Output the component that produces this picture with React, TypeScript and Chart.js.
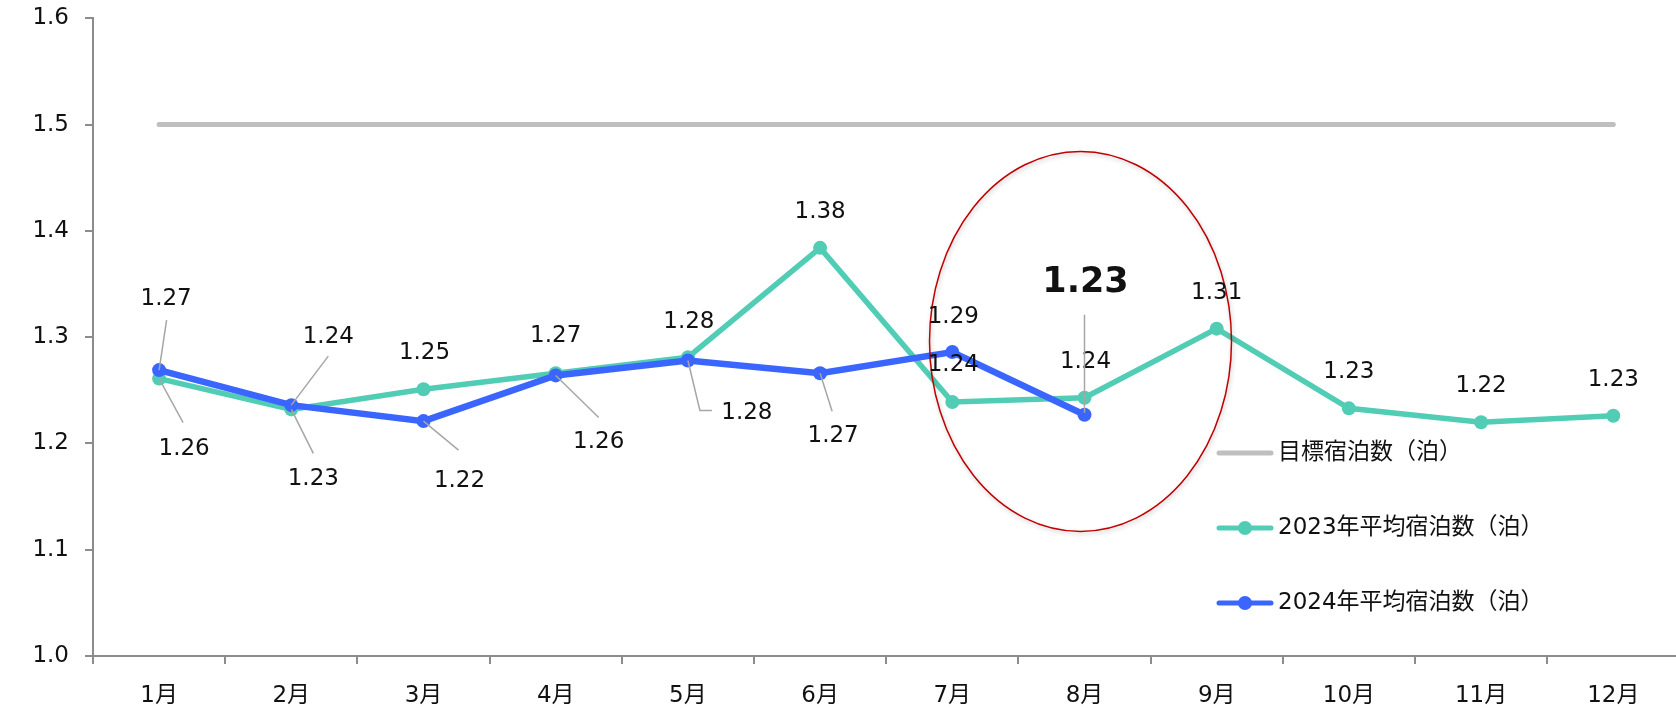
import React, { useEffect, useRef } from "react";
import { Chart, registerables } from "chart.js";

Chart.register(...registerables);

const months = ["1月", "2月", "3月", "4月", "5月", "6月", "7月", "8月", "9月", "10月", "11月", "12月"];
const targetNights = [1.5, 1.5, 1.5, 1.5, 1.5, 1.5, 1.5, 1.5, 1.5, 1.5, 1.5, 1.5];
const avg2023 = [1.261, 1.232, 1.251, 1.266, 1.281, 1.384, 1.239, 1.243, 1.308, 1.233, 1.22, 1.226];
const avg2024 = [1.269, 1.236, 1.221, 1.264, 1.278, 1.266, 1.286, 1.227, null, null, null, null];
const seriesNames = ["目標宿泊数（泊）", "2023年平均宿泊数（泊）", "2024年平均宿泊数（泊）"];
const yMin = 1.0;
const yMax = 1.6;
const yStep = 0.1;

const FONT = '"DejaVu Sans", "Noto Sans CJK JP", sans-serif';
const GRAY = "#bfbfbf";
const TEAL = "#52cdb5";
const BLUE = "#3a66ff";
const AXIS = "#8c8c8c";
const LEADER = "#a6a6a6";

type LabelPlace = { dx: number; dy: number; leader?: number[][]; bold?: boolean } | null;

// label placement (pixel offsets from point) for 2023 and 2024 series
const place2023: LabelPlace[] = [
  { dx: 25, dy: 70, leader: [[24, 44], [0, 0]] },
  { dx: 22, dy: 70, leader: [[22, 44], [0, 0]] },
  { dx: 1, dy: -36 },
  { dx: 0, dy: -37 },
  { dx: 1, dy: -35 },
  { dx: 0, dy: -36 },
  { dx: 1, dy: -37 },
  { dx: 1, dy: -36 },
  { dx: 0, dy: -36 },
  { dx: 0, dy: -36 },
  { dx: 0, dy: -36 },
  { dx: 0, dy: -36 },
];
const place2024: LabelPlace[] = [
  { dx: 7, dy: -71, leader: [[7.5, -50], [0, 0]] },
  { dx: 37, dy: -68, leader: [[37, -49], [0, 0]] },
  { dx: 36, dy: 60, leader: [[35, 29], [0, 0]] },
  { dx: 43, dy: 67, leader: [[43, 42], [0, 0]] },
  { dx: 59, dy: 52, leader: [[24, 50], [12, 50], [0, 0]] },
  { dx: 13, dy: 63, leader: [[12, 38], [0, 0]] },
  { dx: 1, dy: -35 },
  { dx: 1, dy: -132, bold: true, leader: [[0, -100], [0, -2]] },
  null,
  null,
  null,
  null,
];

const overlayPlugin = {
  id: "overlay",
  afterDatasetsDraw(chart: any) {
    const ctx = chart.ctx as CanvasRenderingContext2D;
    const xs = chart.scales.x;
    const ys = chart.scales.y;
    // highlight ellipse around August
    const cx = xs.getPixelForValue(7) - 4;
    const cy = ys.getPixelForValue(1.296);
    ctx.save();
    ctx.beginPath();
    ctx.ellipse(cx, cy, 151, 190, 0, 0, Math.PI * 2);
    ctx.shadowColor = "rgba(0,0,0,0.25)";
    ctx.shadowBlur = 4;
    ctx.shadowOffsetX = 1;
    ctx.shadowOffsetY = 2;
    ctx.strokeStyle = "#c00000";
    ctx.lineWidth = 1.5;
    ctx.stroke();
    ctx.restore();

    const draw = (dsIndex: number, places: LabelPlace[]) => {
      const meta = chart.getDatasetMeta(dsIndex);
      const data = chart.data.datasets[dsIndex].data as (number | null)[];
      meta.data.forEach((pt: any, i: number) => {
        const p = places[i];
        const v = data[i];
        if (!p || v === null || v === undefined) return;
        const x = pt.x;
        const y = pt.y;
        if (p.leader) {
          ctx.save();
          ctx.strokeStyle = LEADER;
          ctx.lineWidth = 1.5;
          ctx.beginPath();
          p.leader.forEach((q, k) => {
            if (k === 0) ctx.moveTo(x + q[0], y + q[1]);
            else ctx.lineTo(x + q[0], y + q[1]);
          });
          ctx.stroke();
          ctx.restore();
        }
        ctx.save();
        ctx.fillStyle = "#111";
        ctx.font = p.bold ? `bold 35px ${FONT}` : `23px ${FONT}`;
        ctx.textAlign = "center";
        ctx.textBaseline = "middle";
        ctx.fillText(v.toFixed(2), x + p.dx, y + p.dy);
        ctx.restore();
      });
    };
    draw(1, place2023);
    draw(2, place2024);
  },
  afterDraw(chart: any) {
    const ctx = chart.ctx as CanvasRenderingContext2D;
    const lx = 1217;
    const ly = 453;
    const gap = 75;
    chart.data.datasets.forEach((ds: any, i: number) => {
      const y = ly + i * gap;
      ctx.save();
      ctx.strokeStyle = ds.borderColor;
      ctx.lineWidth = 5;
      ctx.lineCap = "round";
      ctx.beginPath();
      ctx.moveTo(lx + 2, y);
      ctx.lineTo(lx + 54, y);
      ctx.stroke();
      if (ds.pointRadius > 0) {
        ctx.fillStyle = ds.borderColor;
        ctx.beginPath();
        ctx.arc(lx + 28, y, 7, 0, Math.PI * 2);
        ctx.fill();
      }
      ctx.fillStyle = "#111";
      ctx.font = `23px ${FONT}`;
      ctx.textAlign = "left";
      ctx.textBaseline = "middle";
      ctx.fillText(ds.label, lx + 61, y);
      ctx.restore();
    });
  },
};

export default function App() {
  const ref = useRef<HTMLCanvasElement | null>(null);
  useEffect(() => {
    if (!ref.current) return;
    const chart = new Chart(ref.current, {
      type: "line",
      data: {
        labels: months,
        datasets: [
          {
            label: seriesNames[0],
            data: targetNights,
            borderColor: GRAY,
            backgroundColor: GRAY,
            borderWidth: 5,
            borderCapStyle: "round",
            pointRadius: 0,
            order: 3,
          },
          {
            label: seriesNames[1],
            data: avg2023,
            borderColor: TEAL,
            backgroundColor: TEAL,
            borderWidth: 5.5,
            pointRadius: 7,
            pointBorderWidth: 0,
            order: 2,
          },
          {
            label: seriesNames[2],
            data: avg2024,
            borderColor: BLUE,
            backgroundColor: BLUE,
            borderWidth: 6.5,
            pointRadius: 7,
            pointBorderWidth: 0,
            order: 1,
          },
        ] as any,
      },
      options: {
        animation: false,
        responsive: true,
        maintainAspectRatio: false,
        layout: { padding: { top: 18.3, right: 10.6, left: 0, bottom: 0 } },
        plugins: { legend: { display: false }, tooltip: { enabled: false } },
        scales: {
          x: {
            offset: true,
            grid: {
              offset: true,
              drawOnChartArea: false,
              drawTicks: true,
              tickLength: 8,
              color: AXIS,
              lineWidth: 2,
            },
            border: { color: AXIS, width: 2 },
            ticks: { color: "#111", font: { family: FONT, size: 23 }, padding: 18, maxRotation: 0 },
            afterFit: (s: any) => {
              s.height = 52;
              s.paddingLeft = 0;
              s.paddingRight = 0;
            },
          },
          y: {
            min: yMin,
            max: yMax,
            grid: {
              drawOnChartArea: false,
              drawTicks: true,
              tickLength: 8,
              color: AXIS,
              lineWidth: 2,
            },
            border: { color: AXIS, width: 2 },
            ticks: {
              stepSize: yStep,
              color: "#111",
              font: { family: FONT, size: 23 },
              padding: 16,
              callback: (v: any) => Number(v).toFixed(1),
            },
            afterFit: (s: any) => {
              s.width = 93;
              s.paddingTop = 0;
              s.paddingBottom = 0;
            },
          },
        },
      } as any,
      plugins: [overlayPlugin],
    });
    return () => chart.destroy();
  }, []);
  return (
    <div
      style={{
        position: "fixed",
        left: 0,
        top: 0,
        width: 1676,
        height: 708,
        overflow: "hidden",
        background: "#fff",
      }}
    >
      <div style={{ position: "relative", width: 1690, height: 708 }}>
        <canvas ref={ref} />
      </div>
    </div>
  );
}
